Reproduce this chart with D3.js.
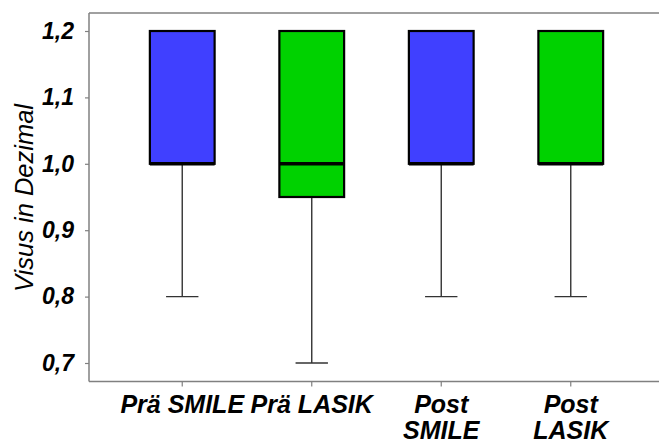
<!DOCTYPE html>
<html>
<head>
<meta charset="utf-8">
<script src="https://cdn.jsdelivr.net/npm/d3@7"></script>
<style>
  body { margin: 0; background: #fff; }
  svg { display: block; font-family: "Liberation Sans", Arial, sans-serif; }
</style>
</head>
<body>
<div id="chart"></div>
<script>
// box plot summary values
const groups = ["Prä SMILE", "Prä LASIK", "Post SMILE", "Post LASIK"];
const groupLabels = [["Prä SMILE"], ["Prä LASIK"], ["Post", "SMILE"], ["Post", "LASIK"]];
const whiskerLow = [0.8, 0.7, 0.8, 0.8];
const q1 = [1.0, 0.95, 1.0, 1.0];
const median = [1.0, 1.0, 1.0, 1.0];
const q3 = [1.2, 1.2, 1.2, 1.2];
const whiskerHigh = [1.2, 1.2, 1.2, 1.2];
const fills = ["#4040ff", "#00d200", "#4040ff", "#00d200"];
const yTicks = [0.7, 0.8, 0.9, 1.0, 1.1, 1.2];

const width = 659;
const height = 439;
const plot = { left: 89, top: 13, bottom: 381.5, right: 664 };

const svg = d3.select("#chart").append("svg")
    .attr("width", width)
    .attr("height", height);

const xScale = d3.scaleBand()
    .domain(groups)
    .range([plot.left, plot.right])
    .paddingInner(0.5)
    .paddingOuter(0.47);

const yScale = d3.scaleLinear()
    .domain([0.7, 1.2])
    .range([363, 31]);

const fmt = d => d3.format(".1f")(d).replace(".", ",");

// top frame line
svg.append("line")
    .attr("x1", plot.left).attr("x2", width)
    .attr("y1", plot.top).attr("y2", plot.top)
    .attr("stroke", "#808080").attr("stroke-width", 1.5);

// y axis
const yAxis = svg.append("g")
    .attr("transform", `translate(${plot.left},0)`)
    .call(d3.axisLeft(yScale).tickValues(yTicks).tickFormat(fmt).tickSize(4).tickPadding(11));
yAxis.select(".domain").remove();
yAxis.append("line")
    .attr("x1", 0).attr("x2", 0)
    .attr("y1", plot.top).attr("y2", plot.bottom)
    .attr("stroke", "#808080").attr("stroke-width", 1.5);
yAxis.selectAll(".tick line").attr("stroke", "#808080").attr("stroke-width", 1.2);
yAxis.selectAll("text")
    .attr("fill", "#000")
    .style("font-size", "23px")
    .style("font-weight", "bold")
    .style("font-style", "italic");

// x axis
const xAxis = svg.append("g")
    .attr("transform", `translate(0,${plot.bottom})`)
    .call(d3.axisBottom(xScale).tickSize(5).tickFormat(""));
xAxis.select(".domain").remove();
xAxis.append("line")
    .attr("x1", plot.left).attr("x2", width)
    .attr("y1", 0).attr("y2", 0)
    .attr("stroke", "#808080").attr("stroke-width", 1.5);
xAxis.selectAll(".tick line").attr("stroke", "#808080").attr("stroke-width", 1.2);

groups.forEach((g, i) => {
    const cx = xScale(g) + xScale.bandwidth() / 2;
    const t = svg.append("text")
        .attr("x", cx)
        .attr("y", 413)
        .attr("text-anchor", "middle")
        .style("font-size", "25px")
        .style("font-weight", "bold")
        .style("font-style", "italic");
    groupLabels[i].forEach((line, j) => {
        t.append("tspan")
            .attr("x", cx)
            .attr("dy", j === 0 ? 0 : 26)
            .text(line);
    });
});

// y axis title
svg.append("text")
    .attr("transform", `translate(33,198) rotate(-90)`)
    .attr("text-anchor", "middle")
    .style("font-size", "25.5px")
    .style("font-style", "italic")
    .text("Visus in Dezimal");

// boxes
const bw = xScale.bandwidth();
const boxes = svg.selectAll(".box")
    .data(groups.map((g, i) => ({ g, i })))
    .enter()
    .append("g")
    .attr("class", "box");

boxes.append("line")
    .attr("x1", d => xScale(d.g) + bw / 2)
    .attr("x2", d => xScale(d.g) + bw / 2)
    .attr("y1", d => yScale(q1[d.i]))
    .attr("y2", d => yScale(whiskerLow[d.i]))
    .attr("stroke", "#333").attr("stroke-width", 1.4);

boxes.append("line")
    .attr("x1", d => xScale(d.g) + bw / 4)
    .attr("x2", d => xScale(d.g) + bw * 3 / 4)
    .attr("y1", d => yScale(whiskerLow[d.i]))
    .attr("y2", d => yScale(whiskerLow[d.i]))
    .attr("stroke", "#333").attr("stroke-width", 1.4);

boxes.append("line")
    .attr("x1", d => xScale(d.g) + bw / 2)
    .attr("x2", d => xScale(d.g) + bw / 2)
    .attr("y1", d => yScale(q3[d.i]))
    .attr("y2", d => yScale(whiskerHigh[d.i]))
    .attr("stroke", "#333").attr("stroke-width", 1.4);

boxes.append("rect")
    .attr("x", d => xScale(d.g))
    .attr("y", d => yScale(q3[d.i]))
    .attr("width", bw)
    .attr("height", d => yScale(q1[d.i]) - yScale(q3[d.i]))
    .attr("fill", d => fills[d.i])
    .attr("stroke", "#000")
    .attr("stroke-width", 2.2);

boxes.append("line")
    .attr("x1", d => xScale(d.g))
    .attr("x2", d => xScale(d.g) + bw)
    .attr("y1", d => yScale(median[d.i]))
    .attr("y2", d => yScale(median[d.i]))
    .attr("stroke", "#000").attr("stroke-width", 3.5);
</script>
</body>
</html>
